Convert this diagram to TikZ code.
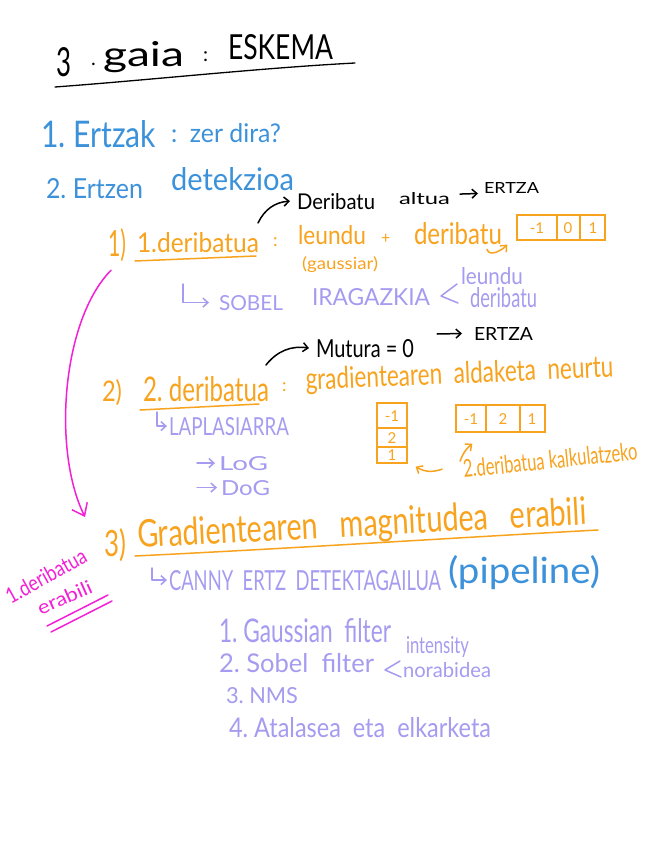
\documentclass[tikz,border=0pt]{standalone}
\usepackage{fontspec}
\setmainfont{Lato}
\usetikzlibrary{arrows.meta}
\definecolor{hblue}{HTML}{3C92DA}
\definecolor{horange}{HTML}{F8A31E}
\definecolor{hlav}{HTML}{A59BF0}
\definecolor{hpink}{HTML}{F41FD6}
\newcommand\hw[3]{\resizebox{#1pt}{#2pt}{#3}}
\newcommand\fs[1]{\fontsize{#1}{#1}\selectfont}
\begin{document}
\begin{tikzpicture}[x=1pt,y=-1pt,
  hand/.style={anchor=base west, inner sep=0pt, outer sep=1pt},
  pen/.style={line width=1.5pt, line cap=round, line join=round},
  tip/.style={-{Straight Barb[length=5pt,width=9pt]}},
  kbox/.style={draw=horange, line width=1.3pt, inner sep=0pt},
  knum/.style={text=horange, inner sep=0pt, font=\fs{15}},
]
\fill[white] (0,0) rectangle (646,848);
\useasboundingbox (0,0) rectangle (646,848);

% ---------- title ----------
\node[hand] (t1) at (55,77) {\hw{15}{29}{3}};
\node[hand] (t1d) at (90,66) {\fs{20}.};
\node[hand] (t2) at (102,67) {\hw{81}{25}{gaia}};
\node[hand] (t3) at (202,62) {\fs{20}:};
\node[hand] (t4) at (227,60) {\hw{105}{25}{ESKEMA}};
\draw[pen,line width=1.3pt] (55,87) .. controls (150,80) and (260,68) .. (355,63);

% ---------- blue ----------
\node[hand,text=hblue] (e1) at (40,147) {\hw{115}{27}{1.\ Ertzak}};
\node[hand,text=hblue] (e1q) at (170,142) {\hw{110}{19}{:\ \ zer dira?}};
\node[hand,text=hblue] (e2) at (45,198) {\hw{97}{20}{2.\ Ertzen}};
\node[hand,text=hblue] (e2b) at (170,190) {\hw{123}{23}{detekzioa}};

% ---------- 1) ----------
\node[hand,text=horange] (n1) at (107,256) {\hw{18}{28}{1)}};
\node[hand,text=horange] (d1) at (136,252) {\hw{122}{20}{1.deribatua}};
\draw[pen,horange] (135,261) -- (256,256);
\node[hand,text=horange] (c1) at (272,246) {\fs{18}:};
\node[hand,text=horange] (le) at (297,244) {\hw{68}{19}{leundu}};
\node[hand,text=horange] (pl) at (380,243) {\fs{16}+};
\node[hand,text=horange] (de) at (413,244) {\hw{88}{22}{deribatu}};
\node[hand,text=horange] (ga) at (301,269) {\hw{76}{13}{(gaussiar)}};
\node[kbox, minimum width=88pt, minimum height=25pt] (k1) at (561,227.5) {};
\draw[horange,line width=1.3pt] ([xshift=-4pt]k1.north) -- ([xshift=-4pt]k1.south);
\draw[horange,line width=1.3pt] ([xshift=19pt]k1.north) -- ([xshift=19pt]k1.south);
\node[knum] (k1a) at (537,228) {-1};
\node[knum] (k1b) at (568,228) {0};
\node[knum] (k1c) at (593,228) {1};
\draw[pen,horange,tip] ([shift={(-16,4)}]de.south east) .. controls +(2,8) and +(-6,6) .. ([shift={(-9,4)}]k1.south west);

% black: Deribatu altua -> ERTZA
\node[hand] (bd) at (296,209) {\hw{78}{16}{Deribatu}};
\node[hand] (ba) at (398,204) {\hw{51}{12}{altua}};
\node[hand] (be) at (483,193) {\hw{55}{11}{ERTZA}};
\draw[pen,tip] ([shift={(-2,-8)}]d1.north east) to[bend left=30] ([xshift=-6pt]bd.west);
\draw[pen,tip] ([shift={(9,-4)}]ba.east) -- ([shift={(-5,6)}]be.west);

% lavender: SOBEL
\node[hand,text=hlav] (sob) at (218,310) {\hw{64}{15}{SOBEL}};
\node[hand,text=hlav] (ira) at (311,305) {\hw{118}{17}{IRAGAZKIA}};
\draw[pen,hlav,tip] (183,284) |- ([xshift=-9pt]sob.west);
\draw[pen,hlav] (457,284) -- (441,296) -- (458,303);
\node[hand,text=hlav] (sl) at (460,284) {\hw{62}{17}{leundu}};
\node[hand,text=hlav] (sd) at (469,307) {\hw{67}{20}{deribatu}};

% ---------- 2) ----------
\node[hand,text=horange] (n2) at (101,401) {\hw{20}{22}{2)}};
\node[hand,text=horange] (d2) at (142,401) {\hw{126}{25}{2.\ deribatua}};
\draw[pen,horange] (140,410) -- (259,404);
\node[hand,text=horange] (c2) at (281,391) {\fs{18}:};
\node[hand,text=horange,rotate=2.4] (gr) at (305,390) {\hw{308}{22}{gradientearen\ \ aldaketa\ \ neurtu}};
\node[hand] (mu) at (315,357) {\hw{98}{18}{Mutura = 0}};
\node[hand] (me) at (473,340) {\hw{59}{13}{ERTZA}};
\draw[pen,tip] ([shift={(-4,-10)}]d2.north east) to[bend left=30] ([xshift=-6pt]mu.west);
\draw[pen,tip] ([shift={(22,-4)}]mu.north east) -- ([shift={(-11,0)}]me.west);

\node[hand,text=hlav] (lap) at (168,435) {\hw{120}{18}{LAPLASIARRA}};
\draw[pen,hlav,tip] (157,412) |- ([xshift=-1pt]lap.west);
\node[hand,text=hlav] (log) at (218,470) {\hw{49}{14}{LoG}};
\node[hand,text=hlav] (dog) at (220,495) {\hw{49}{15}{DoG}};
\draw[pen,hlav,tip] ([xshift=-21pt]log.west) -- ([xshift=-3pt]log.west);
\draw[pen,hlav,tip] ([xshift=-23pt]dog.west) -- ([xshift=-3pt]dog.west);

% kernels
\node[kbox, minimum width=30pt, minimum height=60pt] (kv) at (392,433) {};
\draw[horange,line width=1.3pt] (kv.west |- 0,428) -- (kv.east |- 0,428);
\draw[horange,line width=1.3pt] (kv.west |- 0,447) -- (kv.east |- 0,447);
\node[knum] (kva) at (392,416) {-1};
\node[knum] (kvb) at (392,438) {2};
\node[knum] (kvc) at (392,455) {1};
\node[kbox, minimum width=89pt, minimum height=27pt] (kh) at (500.5,418.5) {};
\draw[horange,line width=1.3pt] (486,405) -- (486,432);
\draw[horange,line width=1.3pt] (520,405) -- (520,432);
\node[knum] (kha) at (471,419) {-1};
\node[knum] (khb) at (503,419) {2};
\node[knum] (khc) at (532,419) {1};
\node[hand,text=horange,rotate=6] (k2) at (463,478) {\hw{175}{18}{2.deribatua\ kalkulatzeko}};
\draw[pen,horange,tip] ([shift={(-20,0)}]k2.west) to[bend left=25] ([shift={(8,3)}]kv.south east);
\draw[pen,horange,tip] ([shift={(-2,-8)}]k2.west) to[bend left=15] ([shift={(17,11)}]kh.south west);

% pink arrow and note
\coordinate (pe) at (85,517);
\draw[pen,hpink,-{Straight Barb[length=11pt,width=17pt]}] ([shift={(4,8)}]n1.south west) .. controls (62,320) and (52,450) .. (pe);
\node[hand,text=hpink,rotate=29] (p1) at (10,605) {\hw{89}{16}{1.deribatua}};
\node[hand,text=hpink,rotate=24] (p2) at (40,616) {\hw{58}{14}{erabili}};
\draw[pen,hpink] (47,626) -- (108,595);
\draw[pen,hpink] (51,632) -- (112,601);

% ---------- 3) ----------
\node[hand,text=horange] (n3) at (103,556) {\hw{22}{28}{3)}};
\node[hand,text=horange,rotate=3] (gm) at (137,548) {\hw{450}{28}{Gradientearen\ \ \ magnitudea\ \ \ erabili}};
\draw[pen,horange] (135,556) .. controls (300,548) and (450,538) .. (598,530);
\node[hand,text=hlav] (ca) at (168,590) {\hw{272}{20}{CANNY\ \ ERTZ\ \ DETEKTAGAILUA}};
\draw[pen,hlav,tip] (152,568) |- ([xshift=-1pt]ca.west);
\node[hand,text=hblue] (pp) at (447,583) {\hw{152}{28}{(pipeline)}};

% list
\node[hand,text=hlav] (l1) at (218,642) {\hw{172}{24}{1.\ Gaussian\ \ filter}};
\node[hand,text=hlav] (l2) at (218,672) {\hw{155}{19}{2.\ Sobel\ \ filter}};
\draw[pen,hlav] (400,661) -- (385,670) -- (401,677);
\node[hand,text=hlav] (l2a) at (405,653) {\hw{63}{17}{intensity}};
\node[hand,text=hlav] (l2b) at (402,677) {\hw{88}{15}{norabidea}};
\node[hand,text=hlav] (l3) at (225,703) {\hw{72}{16}{3.\ NMS}};
\node[hand,text=hlav] (l4) at (228,737) {\hw{262}{20}{4.\ Atalasea\ \ eta\ \ elkarketa}};
\end{tikzpicture}
\end{document}
